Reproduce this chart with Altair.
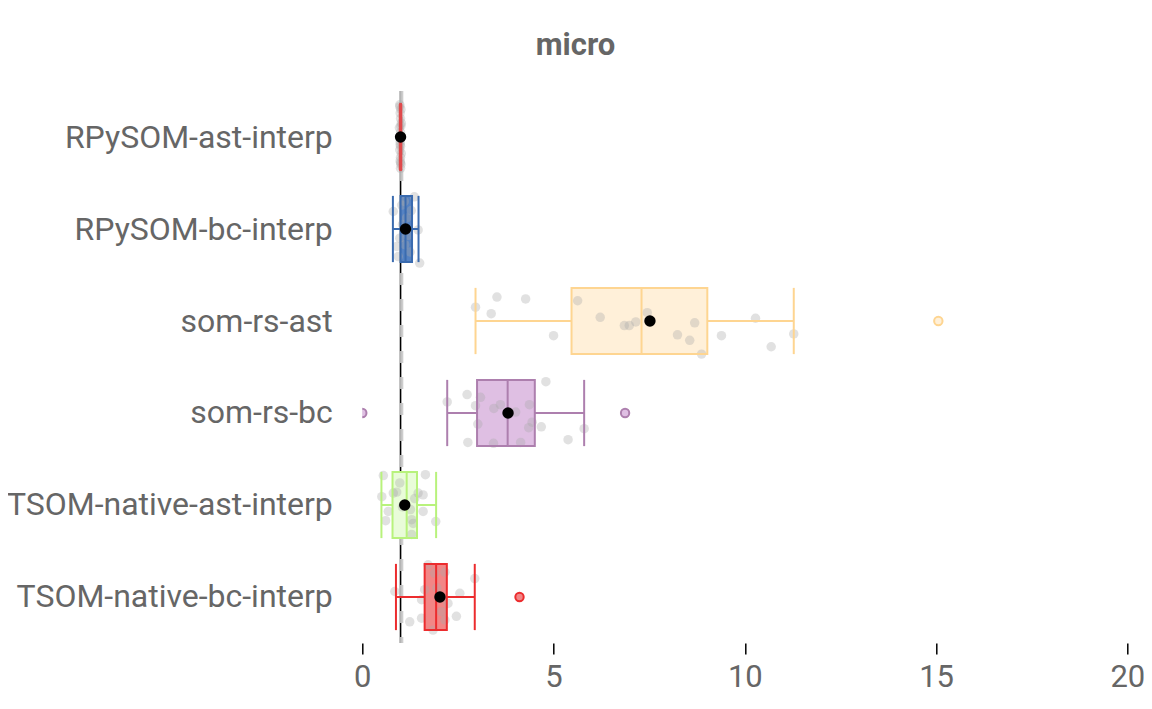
import altair as alt
import pandas as pd

categories = ["RPySOM-ast-interp", "RPySOM-bc-interp", "som-rs-ast",
              "som-rs-bc", "TSOM-native-ast-interp", "TSOM-native-bc-interp"]
stroke_colors = ["#e04a4c", "#3a6baf", "#fed591", "#ad7fae", "#b8f27c", "#ec2c2e"]
fill_colors = ["#e98486", "#5582c2", "#fff0d9", "#dfbfe3", "#e9fcd9", "#f28686"]

# box statistics
whisk_lo = [0.98, 0.80, 2.96, 2.22, 0.50, 0.88]
q1 = [0.99, 1.00, 5.47, 3.00, 0.79, 1.63]
median = [1.00, 1.13, 7.30, 3.80, 1.16, 1.93]
q3 = [1.01, 1.30, 9.02, 4.51, 1.43, 2.21]
whisk_hi = [1.02, 1.47, 11.28, 5.80, 1.93, 2.94]
means = [1.00, 1.13, 7.52, 3.81, 1.11, 2.03]

outlier_cat = ["som-rs-ast", "som-rs-bc", "som-rs-bc", "TSOM-native-bc-interp"]
outlier_val = [15.06, 0.0, 6.87, 4.11]

# raw measurements (value, vertical jitter in row units)
pts_rpysom_ast = [0.98, 1.01, 0.99, 1.00, 1.02, 0.97, 1.00, 1.01, 0.99, 1.00,
                  0.98, 1.02, 1.00, 0.99, 1.01, 1.00, 0.98, 1.01, 0.99, 1.00]
jit_rpysom_ast = [-0.35, -0.30, -0.26, -0.20, -0.15, -0.10, -0.05, 0.00, 0.05, 0.10,
                  0.14, 0.18, 0.22, 0.26, 0.30, 0.34, -0.33, -0.12, 0.08, 0.28]
pts_rpysom_bc = [1.36, 0.81, 1.03, 1.46, 1.50, 0.94, 1.11, 0.90, 1.16, 1.20,
                 1.05, 1.25, 0.98, 1.10, 1.28]
jit_rpysom_bc = [-0.35, -0.19, -0.26, 0.01, 0.37, 0.30, 0.17, 0.19, -0.12, 0.07,
                 -0.05, 0.25, 0.10, -0.30, -0.20]
pts_somrs_ast = [2.96, 3.52, 3.37, 4.27, 5.00, 5.63, 6.22, 6.85, 6.98, 7.15,
                 7.45, 8.24, 8.56, 8.69, 8.87, 9.39, 10.28, 10.69, 11.28, 15.06]
jit_somrs_ast = [-0.15, -0.26, -0.08, -0.24, 0.16, -0.22, -0.04, 0.05, 0.05, 0.01,
                 -0.09, 0.15, 0.21, 0.02, 0.36, 0.16, -0.03, 0.28, 0.14, 0.0]
pts_somrs_bc = [0.0, 2.22, 2.74, 2.76, 2.96, 3.02, 3.09, 3.43, 3.44, 3.61,
                4.01, 4.14, 4.35, 4.37, 4.44, 4.68, 4.80, 5.38, 5.80, 6.87]
jit_somrs_bc = [0.0, -0.12, -0.20, 0.32, -0.08, 0.12, -0.17, 0.33, -0.05, -0.09,
                -0.01, 0.32, 0.16, -0.09, 0.10, 0.15, -0.34, 0.29, 0.17, 0.0]
pts_tsom_ast = [0.55, 0.51, 0.68, 0.61, 0.98, 0.90, 0.81, 1.65, 1.46, 1.59,
                1.37, 1.59, 1.29, 1.33, 1.29, 1.92, 1.26, 1.05]
jit_tsom_ast = [-0.32, -0.09, 0.07, 0.17, -0.24, -0.14, -0.13, -0.33, -0.13, -0.11,
                -0.07, 0.07, 0.16, 0.20, 0.32, 0.18, 0.05, 0.02]
pts_tsom_bc = [1.72, 1.89, 2.16, 2.94, 0.85, 1.63, 1.55, 2.55, 1.24, 1.55,
               2.07, 2.16, 2.46, 1.85, 2.24, 1.95, 4.11]
jit_tsom_bc = [-0.35, -0.26, -0.27, -0.20, -0.06, -0.08, 0.03, -0.04, 0.27, 0.23,
               0.16, 0.25, 0.21, 0.36, 0.07, -0.10, 0.0]

half = 0.36

stats = pd.DataFrame({
    "cat": categories, "idx": list(range(len(categories))),
    "lo": whisk_lo, "q1": q1, "med": median, "q3": q3, "hi": whisk_hi, "mean": means,
})
stats["ylo"] = stats["idx"] - half
stats["yhi"] = stats["idx"] + half

out = pd.DataFrame({"cat": outlier_cat, "v": outlier_val})
out["idx"] = out["cat"].map({c: i for i, c in enumerate(categories)})

groups = [(pts_rpysom_ast, jit_rpysom_ast), (pts_rpysom_bc, jit_rpysom_bc),
          (pts_somrs_ast, jit_somrs_ast), (pts_somrs_bc, jit_somrs_bc),
          (pts_tsom_ast, jit_tsom_ast), (pts_tsom_bc, jit_tsom_bc)]
rows = []
for i, (vals, jits) in enumerate(groups):
    for v, j in zip(vals, jits):
        rows.append({"cat": categories[i], "v": v, "y": i + j})
pts = pd.DataFrame(rows)

ref = pd.DataFrame({"v": [1.0]})
ref2 = pd.DataFrame({"v": [1.02]})

label_arr = "[" + ",".join("'" + c + "'" for c in categories) + "]"

xs = alt.Scale(domain=[0, 20], nice=False, zero=False)
ys = alt.Scale(domain=[-0.5, len(categories) - 0.5], reverse=True, nice=False, zero=False)
stroke_scale = alt.Scale(domain=categories, range=stroke_colors)
fill_scale = alt.Scale(domain=categories, range=fill_colors)

xaxis = alt.Axis(values=[0, 5, 10, 15, 20], title=None, domain=False, grid=False,
                 tickColor="#000000", tickWidth=1.5, tickSize=11,
                 labelFontSize=31, labelColor="#666666", labelPadding=9,
                 labelFont="Roboto", labelFlush=False)
yaxis = alt.Axis(values=list(range(len(categories))), title=None, domain=False,
                 grid=False, ticks=False, labelFontSize=32, labelColor="#666666",
                 labelPadding=30, labelFont="Roboto", labelLimit=0,
                 labelExpr=label_arr + "[datum.value]")

X = lambda f: alt.X(f, type="quantitative", scale=xs, axis=xaxis)
Y = lambda f: alt.Y(f, type="quantitative", scale=ys, axis=yaxis)
SC = alt.Color("cat:N", scale=stroke_scale, legend=None)

vline = alt.Chart(ref).mark_rule(color="#000000", strokeWidth=1.6).encode(x=X("v"))
vdash = alt.Chart(ref2).mark_rule(color="#c8c8c8", strokeWidth=4, strokeDash=[12, 14],
                                  opacity=0.9).encode(x=X("v"))

sb = alt.Chart(stats)
# box body (fill only) under the points
boxfill = sb.mark_rect().encode(
    x=X("q1"), x2="q3", y=Y("ylo"), y2="yhi",
    fill=alt.Fill("cat:N", scale=fill_scale, legend=None))

grey = alt.Chart(pts).mark_circle(color="#aaaaaa", opacity=0.35, size=90, clip=True).encode(
    x=X("v"), y=Y("y"))

# box lines over the points
wl = sb.mark_rule(strokeWidth=2).encode(x=X("lo"), x2="q1", y=Y("idx"), color=SC)
wh = sb.mark_rule(strokeWidth=2).encode(x=X("q3"), x2="hi", y=Y("idx"), color=SC)
capl = sb.mark_rule(strokeWidth=2).encode(x=X("lo"), y=Y("ylo"), y2="yhi", color=SC)
caph = sb.mark_rule(strokeWidth=2).encode(x=X("hi"), y=Y("ylo"), y2="yhi", color=SC)
boxline = sb.mark_rect(strokeWidth=2, fillOpacity=0).encode(
    x=X("q1"), x2="q3", y=Y("ylo"), y2="yhi",
    stroke=alt.Stroke("cat:N", scale=stroke_scale, legend=None))
med = sb.mark_rule(strokeWidth=2).encode(x=X("med"), y=Y("ylo"), y2="yhi", color=SC)

outl = alt.Chart(out).mark_point(filled=True, size=70, strokeWidth=2, clip=True, opacity=1).encode(
    x=X("v"), y=Y("idx"),
    fill=alt.Fill("cat:N", scale=fill_scale, legend=None),
    stroke=alt.Stroke("cat:N", scale=stroke_scale, legend=None))

meanpt = sb.mark_circle(color="#000000", opacity=1, size=130).encode(
    x=X("mean"), y=Y("idx"))

chart = alt.layer(vline, vdash, boxfill, grey, wl, wh, capl, caph, boxline, med,
                  outl, meanpt).properties(
    width=765, height=552,
    title=alt.TitleParams("micro", fontSize=31, fontWeight="bold", color="#666666",
                          font="Roboto", anchor="middle", frame="bounds", offset=27),
    autosize=alt.AutoSizeParams(type="none"),
    padding={"left": 354.3, "top": 83, "right": 16.5, "bottom": 56},
).configure_view(stroke=None)

chart.save("out.html", embed_options={"renderer": "svg", "actions": False})
